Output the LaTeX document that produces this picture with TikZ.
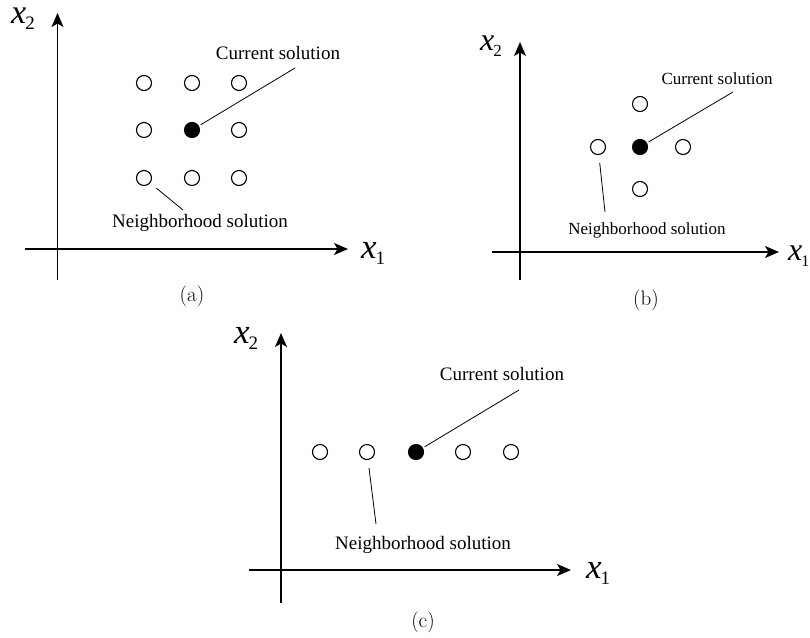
\documentclass[tikz,border=0pt]{standalone}
\usepackage{fontspec}
\newfontfamily\tnr{Liberation Serif}
\newfontfamily\tnrit{Liberation Serif Italic}
\usetikzlibrary{arrows.meta}
\newcommand\axislabel[3]{{\fontsize{#1}{#1}\selectfont\tnrit x}\kern-1pt\raisebox{-6pt}{\fontsize{#2}{#2}\selectfont\tnr #3}}
\begin{document}
\begin{tikzpicture}[x=1pt,y=-1pt,
  axis/.style={line width=1.4pt,-{Stealth[length=14pt,width=12pt,inset=3.5pt]}},
  opensol/.style={circle,draw,line width=1.1pt,minimum size=15pt,inner sep=0pt},
  cursol/.style={opensol,fill=black},
  lead/.style={line width=0.8pt},
  txt/.style={font=\tnr\fontsize{19}{19}\selectfont,inner sep=0pt},
  txtb/.style={font=\tnr\fontsize{17}{17}\selectfont,inner sep=0pt},
  subcap/.style={font=\fontsize{21}{21}\selectfont,inner sep=0pt},
  axl/.style={anchor=base west,inner sep=0pt}]
\useasboundingbox (0,0) rectangle (810,637);

% ---------- (a) ----------
\coordinate (ay0) at (57.5,280);
\coordinate (ay1) at (57.5,13);
\coordinate (ax0) at (25,249);
\coordinate (ax1) at (348,249);
\draw[axis] (ay0) -- (ay1);
\draw[axis] (ax0) -- (ax1);
\node[axl] (ax1l) at (361,258) {\axislabel{35}{19}{1}};
\node[axl] (ax2l) at (11,23) {\axislabel{34}{19}{2}};
\node[opensol] (a11) at (144,83) {};
\node[opensol] (a12) at (192,83) {};
\node[opensol] (a13) at (239,83) {};
\node[opensol] (a21) at (144,130) {};
\node[cursol]  (a22) at (192,130) {};
\node[opensol] (a23) at (239,130) {};
\node[opensol] (a31) at (144,178) {};
\node[opensol] (a32) at (192,178) {};
\node[opensol] (a33) at (239,178) {};
\node[txt] (acur) at (278,53) {Current solution};
\node[txt] (anb) at (200,223) {Neighborhood solution};
\coordinate (acl) at (295,68);
\coordinate (anl) at (183,210);
\draw[lead,shorten >=2pt] (acl) -- (a22);
\draw[lead,shorten <=8pt] (a31) -- (anl);
\node[subcap] (acap) at (192,296) {(a)};

% ---------- (b) ----------
\coordinate (by0) at (520,280);
\coordinate (by1) at (520,42);
\coordinate (bx0) at (492,252);
\coordinate (bx1) at (779,252);
\draw[axis] (by0) -- (by1);
\draw[axis] (bx0) -- (bx1);
\node[axl] (bx1l) at (788,260) {\axislabel{32}{16}{1}};
\node[axl] (bx2l) at (480,50) {\axislabel{32}{17}{2}};
\node[cursol]  (bc) at (640,147) {};
\node[opensol] (bl) at (598,147) {};
\node[opensol] (br) at (683,147) {};
\node[opensol] (bt) at (640,104) {};
\node[opensol] (bb) at (640,189) {};
\node[txtb] (bcur) at (717,79) {Current solution};
\node[txtb] (bnb) at (647,230) {Neighborhood solution};
\coordinate (bcl) at (733,92);
\coordinate (bnl) at (605,212);
\draw[lead,shorten >=2pt] (bcl) -- (bc);
\draw[lead,shorten <=8pt] (bl) -- (bnl);
\node[subcap] (bcap) at (646,300) {(b)};

% ---------- (c) ----------
\coordinate (cy0) at (281,603);
\coordinate (cy1) at (281,333);
\coordinate (cx0) at (249,570);
\coordinate (cx1) at (571,570);
\draw[axis] (cy0) -- (cy1);
\draw[axis] (cx0) -- (cx1);
\node[axl] (cx1l) at (586,578) {\axislabel{35}{19}{1}};
\node[axl] (cx2l) at (234,343) {\axislabel{35}{19}{2}};
\node[opensol] (c1) at (320,452) {};
\node[opensol] (c2) at (367,452) {};
\node[cursol]  (c3) at (416,452) {};
\node[opensol] (c4) at (463,452) {};
\node[opensol] (c5) at (511,452) {};
\node[txt] (ccur) at (502,374) {Current solution};
\node[txt] (cnb) at (423,545) {Neighborhood solution};
\coordinate (ccl) at (519,390);
\coordinate (cnl) at (376,524);
\draw[lead,shorten >=2pt] (ccl) -- (c3);
\draw[lead,shorten <=8pt] (c2) -- (cnl);
\node[subcap] (ccap) at (423,622) {(c)};
\end{tikzpicture}
\end{document}
